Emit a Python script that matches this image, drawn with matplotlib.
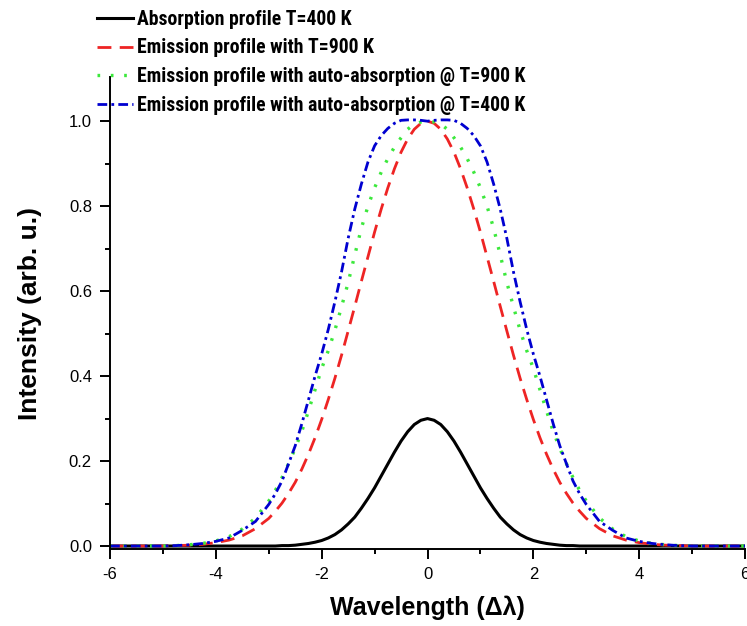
import numpy as np
import matplotlib.pyplot as plt
from matplotlib import font_manager

plt.rcParams['font.family'] = ['Liberation Sans', 'DejaVu Sans']
plt.rcParams['axes.unicode_minus'] = False

# sample positions (x >= 0 half, the profiles are symmetric about 0)
x_half = [0, 0.125, 0.25, 0.375, 0.5, 0.625, 0.75, 0.875, 1.0, 1.125, 1.25, 1.375,
          1.5, 1.625, 1.75, 1.875, 2.0, 2.125, 2.25, 2.375, 2.5, 2.625, 2.75, 2.875,
          3.0, 3.25, 3.5, 3.75, 4.0, 4.25, 4.5, 4.75, 5.0, 5.25, 5.5, 5.75, 6.0]

# absorption profile T=400 K
absorption_half = [0.300, 0.296, 0.286, 0.269, 0.247, 0.221, 0.193, 0.165, 0.137, 0.112, 0.089, 0.068,
                   0.052, 0.038, 0.027, 0.019, 0.013, 0.009, 0.006, 0.004, 0.002, 0.001, 0.001, 0.000,
                   0, 0, 0, 0, 0, 0, 0, 0, 0, 0, 0, 0, 0]

# emission profile T=900 K
emission_half = [1.000, 0.995, 0.981, 0.958, 0.927, 0.888, 0.843, 0.793, 0.739, 0.681, 0.623, 0.564,
                 0.506, 0.449, 0.395, 0.345, 0.298, 0.255, 0.216, 0.181, 0.150, 0.124, 0.101, 0.082,
                 0.065, 0.041, 0.024, 0.014, 0.008, 0.004, 0.002, 0.001, 0, 0, 0, 0, 0]

# emission with auto-absorption @ T=900 K
auto900_half = [1.000, 0.998, 0.993, 0.981, 0.961, 0.939, 0.912, 0.880, 0.843, 0.800, 0.748, 0.685,
                0.620, 0.563, 0.508, 0.460, 0.418, 0.368, 0.318, 0.270, 0.230, 0.194, 0.161, 0.131,
                0.106, 0.066, 0.040, 0.022, 0.012, 0.006, 0.003, 0.001, 0, 0, 0, 0, 0]

# emission with auto-absorption @ T=400 K
auto400_half = [1.000, 1.002, 1.003, 1.003, 1.002, 0.995, 0.983, 0.966, 0.942, 0.904, 0.852, 0.793,
                0.724, 0.645, 0.575, 0.510, 0.452, 0.400, 0.344, 0.288, 0.236, 0.194, 0.153, 0.123,
                0.098, 0.058, 0.037, 0.019, 0.011, 0.006, 0.003, 0.001, 0, 0, 0, 0, 0]

labels = ['Absorption profile T=400 K',
          'Emission profile with T=900 K',
          'Emission profile with auto-absorption @ T=900 K',
          'Emission profile with auto-absorption @ T=400 K']


def mirror(v, sign=1):
    v = np.asarray(v, dtype=float)
    return np.concatenate([sign * v[:0:-1], v])


x = mirror(x_half, -1)

# legend font: a narrow bold face if one is installed
legend_font = font_manager.FontProperties(family='Liberation Sans', weight='bold')
cands = []
for f in font_manager.fontManager.ttflist:
    nm = (f.name + ' ' + f.fname).lower()
    narrow = ('narrow' in nm or 'condensed' in nm or 'cond' in nm
              or str(f.stretch) in ('condensed', 'semi-condensed', 'extra-condensed', '300', '400'))
    bold = (f.weight in ('bold', 'demibold', 'semibold', 'heavy', 'black')
            or (isinstance(f.weight, int) and f.weight >= 600))
    if narrow and bold and 'mono' not in nm and 'serif' not in f.name.lower():
        cands.append(f)
order = ['liberation sans narrow', 'arial narrow', 'roboto condensed', 'open sans condensed',
         'noto sans', 'dejavu sans']
cands.sort(key=lambda f: next((i for i, o in enumerate(order) if o in f.name.lower()), 99))
if cands:
    legend_font = font_manager.FontProperties(fname=cands[0].fname)

fig = plt.figure(figsize=(7.47, 6.26), dpi=100)
ax = fig.add_axes([0.1473, 0.1230, 0.850, 0.754])

# size the legend text so the longest entry spans about the same width as the reference
renderer = fig.canvas.get_renderer()
legend_font.set_size(10)
probe = fig.text(0, 0, labels[2], fontproperties=legend_font)
w10 = probe.get_window_extent(renderer).width
probe.remove()
leg_size = min(16, 10 * 388 / w10)
legend_font.set_size(leg_size)
size_px = leg_size * 100 / 72

ax.plot(x, mirror(absorption_half), color='black', lw=2.2, label=labels[0])
ax.plot(x, mirror(emission_half), color='#ee2424', lw=2, linestyle=(0, (5, 3)), label=labels[1])
ax.plot(x, mirror(auto900_half), color='#3ce83c', lw=2.4, linestyle=(0, (0.8, 3.2)), label=labels[2])
ax.plot(x, mirror(auto400_half), color='#0000d0', lw=2,
        linestyle=(0, (3.5, 1.5, 1, 1.5)), label=labels[3])

ax.set_xlim(-6, 6)
ax.set_ylim(-0.007, 1.104)
ax.set_xticks(np.arange(-6, 7, 2))
ax.set_xticks(np.arange(-5, 6, 2), minor=True)
ax.set_yticks(np.arange(0, 1.01, 0.2))
ax.set_yticks(np.arange(0.1, 1.01, 0.2), minor=True)
ax.set_yticklabels(['%.1f' % v for v in np.arange(0, 1.01, 0.2)])

for s in ['top', 'right']:
    ax.spines[s].set_visible(False)
for s in ['left', 'bottom']:
    ax.spines[s].set_linewidth(1.4)
ax.tick_params(which='major', direction='out', length=7, width=1.4, labelsize=12, pad=6)
ax.tick_params(which='minor', direction='out', length=3.6, width=1.4)

ax.set_xlabel('Wavelength (Δλ)', fontsize=18, fontweight='bold', labelpad=10)
ax.set_ylabel('Intensity (arb. u.)', fontsize=19, fontweight='bold', labelpad=19)

text_h = 0.92 * size_px
fig.legend(loc='upper left', bbox_to_anchor=(97 / 747, 1 - (19 - text_h / 2) / 626), frameon=False,
           borderpad=0, borderaxespad=0, handlelength=36 / size_px, handletextpad=4 / size_px,
           labelspacing=(27.7 - text_h) / size_px, prop=legend_font)

fig.savefig('out.png', dpi=100)
